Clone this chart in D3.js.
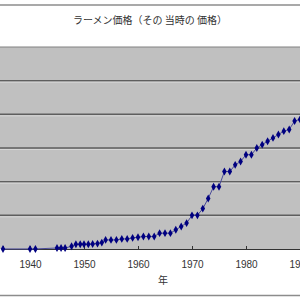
<!DOCTYPE html>
<html>
<head>
<meta charset="utf-8">
<script src="https://cdn.jsdelivr.net/npm/d3@7"></script>
<style>
  html, body { margin: 0; padding: 0; background: #fff; }
  svg { display: block; }
</style>
</head>
<body>
<div id="chart"></div>
<script>
// ラーメン価格 (その当時の価格), 円
const years = [1935, 1940, 1941, 1945, 1945.75, 1946.5, 1947.7, 1948.5, 1949.3, 1950, 1950.8,
  1951.6, 1952.5, 1953.3, 1954, 1955, 1956, 1957, 1958, 1959, 1960, 1961, 1962, 1963,
  1964, 1965, 1966, 1967, 1968, 1969, 1970, 1971, 1972, 1973, 1974, 1975, 1976, 1977,
  1978, 1979, 1980, 1981, 1982, 1983, 1984, 1985, 1986, 1987, 1988, 1989, 1990];
const prices = [0.1, 0.16, 0.16, 3, 3, 3, 8, 14, 14, 14, 14,
  15, 16, 19, 27, 27, 27, 30, 30, 33, 35, 37, 37, 37,
  47, 47, 47, 57, 67, 77, 100, 100, 120, 150, 185, 185, 230, 230,
  250, 260, 280, 280, 300, 310, 320, 330, 340, 350, 355, 380, 385];
const xTicks = [1940, 1950, 1960, 1970, 1980, 1990];
const yGrid = [100, 200, 300, 400, 500];

const title = "ラーメン価格（その 当時の 価格）";
const xTitle = "年";

const W = 300, H = 300;
const svg = d3.select("#chart").append("svg")
  .attr("width", W).attr("height", H);

const x = d3.scaleLinear().domain([1935, 1990]).range([3, 300]);
const y = d3.scaleLinear().domain([0, 600]).range([249, 47]);

// chart area border (cropped)
svg.append("line").attr("x1", 0).attr("x2", W).attr("y1", 5).attr("y2", 5)
  .attr("stroke", "#8c8c8c").attr("stroke-width", 1.5);
svg.append("line").attr("x1", 0).attr("x2", W).attr("y1", 295.5).attr("y2", 295.5)
  .attr("stroke", "#8c8c8c").attr("stroke-width", 1.5);

svg.append("text")
  .attr("x", 150).attr("y", 24)
  .attr("text-anchor", "middle")
  .attr("font-family", "'Noto Sans CJK JP', sans-serif")
  .attr("font-size", 10).attr("fill", "#333")
  .text(title);

// plot area
svg.append("rect")
  .attr("x", 0).attr("y", y(600)).attr("width", W).attr("height", y(0) - y(600))
  .attr("fill", "#c0c0c0");
svg.append("line").attr("x1", 0).attr("x2", W).attr("y1", y(600)).attr("y2", y(600))
  .attr("stroke", "#808080").attr("stroke-width", 1);

const grid = svg.append("g");
yGrid.forEach(v => {
  grid.append("line").attr("x1", 0).attr("x2", W).attr("y1", y(v)).attr("y2", y(v))
    .attr("stroke", "#5e5e5e").attr("stroke-width", 1.5);
  grid.append("line").attr("x1", 0).attr("x2", W).attr("y1", y(v) + 1.5).attr("y2", y(v) + 1.5)
    .attr("stroke", "#d6d6d6").attr("stroke-width", 1);
});

// x axis
const xAxis = svg.append("g")
  .attr("transform", `translate(0,${y(0)})`)
  .call(d3.axisBottom(x).tickValues(xTicks).tickFormat(d3.format("d")).tickSize(-3).tickPadding(12));
xAxis.select(".domain").attr("stroke", "#333");
xAxis.selectAll(".tick line").attr("stroke", "#333");
xAxis.selectAll("text")
  .attr("font-family", "'Liberation Sans', Arial, sans-serif")
  .attr("font-size", 10).attr("fill", "#333");

svg.append("text")
  .attr("x", 163).attr("y", 284)
  .attr("text-anchor", "middle")
  .attr("font-family", "'Noto Sans CJK JP', sans-serif")
  .attr("font-size", 10).attr("fill", "#333")
  .text(xTitle);

// series
const pts = years.map((yr, i) => ({ yr, p: prices[i] }));
const line = d3.line().x(d => x(d.yr)).y(d => y(d.p));
svg.append("path")
  .datum(pts)
  .attr("fill", "none")
  .attr("stroke", "#4a4a9a")
  .attr("stroke-width", 1)
  .attr("d", line);

svg.selectAll(".pt")
  .data(pts)
  .join("path")
  .attr("class", "pt")
  .attr("transform", d => `translate(${x(d.yr)},${y(d.p)})`)
  .attr("d", d3.symbol(d3.symbolDiamond, 18))
  .attr("fill", "#000080");
</script>
</body>
</html>
